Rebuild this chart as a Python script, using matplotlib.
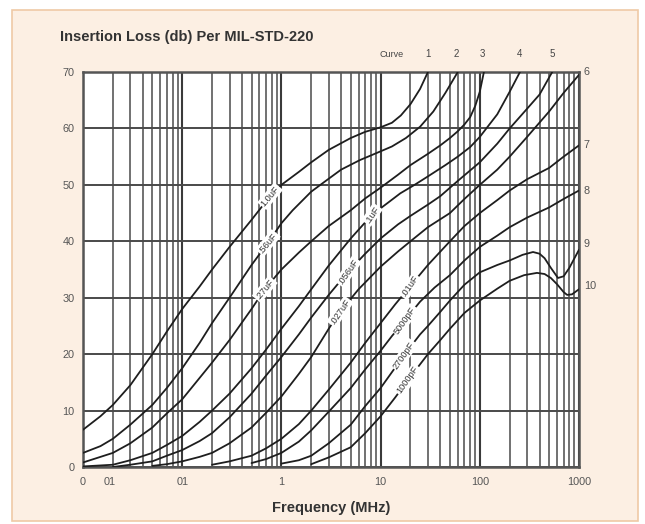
import matplotlib
matplotlib.use("Agg")
import matplotlib.pyplot as plt
from matplotlib.patches import Rectangle
from matplotlib.ticker import FixedLocator, NullFormatter

plt.rcParams['font.family'] = ['Liberation Sans', 'DejaVu Sans']

# ---------------- data ----------------
c1_f = [0.01, 0.015, 0.02, 0.03, 0.05, 0.07, 0.1, 0.15, 0.2, 0.3, 0.5, 0.77, 1, 1.5, 2, 3, 5, 7, 10, 13, 16, 20, 25, 30]
c1_db = [6.6, 9.0, 11.0, 14.5, 20.0, 24.0, 28.0, 32.0, 35.0, 39.0, 43.8, 48.0, 50.0, 52.3, 54.0, 56.2, 58.3, 59.4, 60.2, 61.0, 62.3, 64.3, 67.0, 70.0]

c2_f = [0.01, 0.015, 0.02, 0.03, 0.05, 0.07, 0.1, 0.15, 0.2, 0.3, 0.5, 0.73, 1, 1.3, 2, 2.9, 4, 6.2, 9, 13, 18, 25, 34, 45, 60]
c2_db = [2.5, 3.7, 5.0, 7.5, 11.0, 14.0, 17.5, 22.0, 25.5, 30.0, 35.8, 39.7, 43.2, 45.5, 48.8, 50.9, 52.7, 54.4, 55.6, 56.8, 58.3, 60.3, 63.0, 66.3, 70.0]

c3_f = [0.01, 0.02, 0.03, 0.05, 0.07, 0.1, 0.15, 0.2, 0.3, 0.5, 0.68, 1, 1.5, 2, 3, 5, 7, 10, 15, 20, 30, 40, 50, 60, 70, 80, 90, 100, 110]
c3_db = [0.8, 2.5, 4.2, 7.0, 9.5, 12.0, 15.8, 18.5, 22.5, 28.0, 31.5, 35.0, 38.0, 40.0, 42.7, 45.5, 47.6, 49.5, 51.8, 53.5, 55.5, 57.0, 58.3, 59.5, 60.7, 62.0, 64.0, 66.5, 70.0]

c4_f = [0.01, 0.02, 0.03, 0.05, 0.07, 0.1, 0.15, 0.2, 0.3, 0.5, 0.7, 1, 1.5, 2, 3, 5, 8.2, 12, 15.8, 22, 30, 45, 60, 80, 100, 150, 200, 254]
c4_db = [0.1, 0.4, 1.2, 2.5, 3.9, 5.5, 8.0, 10.0, 13.0, 17.5, 20.8, 24.5, 28.5, 31.5, 35.7, 40.5, 44.7, 46.9, 48.5, 50.0, 51.5, 53.5, 55.0, 56.7, 58.5, 62.5, 66.5, 70.0]

c5_f = [0.02, 0.03, 0.05, 0.07, 0.1, 0.15, 0.2, 0.3, 0.5, 0.7, 1, 1.5, 2, 3, 4.7, 7, 10, 15, 20, 30, 40, 60, 100, 150, 200, 300, 400, 537]
c5_db = [0.0, 0.4, 1.0, 2.0, 3.0, 4.6, 6.0, 8.8, 13.0, 16.2, 19.5, 23.5, 26.5, 30.5, 34.6, 37.8, 40.5, 43.0, 44.5, 46.5, 48.0, 50.7, 54.0, 57.3, 60.0, 63.5, 66.0, 70.0]

c6_f = [0.05, 0.07, 0.1, 0.15, 0.2, 0.3, 0.5, 0.7, 1, 1.5, 2, 3, 3.9, 6, 10, 15, 20, 30, 50, 70, 100, 150, 200, 300, 500, 700, 1000]
c6_db = [0.2, 0.5, 1.0, 1.8, 2.5, 4.2, 7.0, 9.6, 12.5, 16.5, 19.5, 24.5, 27.5, 31.5, 35.5, 38.2, 40.0, 42.5, 45.0, 47.5, 50.0, 52.7, 55.0, 58.5, 63.0, 66.3, 69.5]

c7_f = [0.2, 0.3, 0.5, 0.7, 1, 1.5, 2, 3, 5, 7, 10, 14, 19.8, 30, 50, 70, 100, 150, 200, 300, 500, 700, 1000]
c7_db = [0.4, 1.0, 2.0, 3.3, 5.0, 7.6, 10.0, 13.7, 18.5, 22.0, 25.5, 28.8, 32.0, 35.8, 40.0, 42.7, 45.0, 47.3, 49.0, 51.0, 53.0, 55.0, 57.0]

c8_f = [0.5, 0.7, 1, 1.5, 2, 3, 5, 7, 10, 13, 17.6, 25, 35, 50, 70, 100, 150, 200, 300, 500, 700, 1000]
c8_db = [0.7, 1.4, 2.5, 4.5, 6.5, 9.8, 14.0, 17.3, 20.6, 23.2, 26.0, 29.3, 31.8, 34.0, 36.6, 39.0, 41.0, 42.5, 44.2, 46.0, 47.5, 49.0]

c9_f = [1, 1.5, 2, 3, 5, 7, 10, 13, 17.2, 25, 30, 40, 50, 70, 100, 150, 200, 270, 344, 400, 450, 520, 614, 700, 800, 900, 1000]
c9_db = [0.6, 1.2, 2.0, 4.2, 7.5, 10.8, 14.0, 16.8, 19.8, 23.5, 25.0, 27.5, 29.5, 32.3, 34.5, 35.8, 36.6, 37.6, 38.1, 37.8, 37.0, 35.3, 33.5, 33.8, 35.3, 37.0, 38.5]

c10_f = [2, 3, 5, 7, 10, 14, 18.9, 25, 30, 40, 50, 70, 100, 150, 200, 280, 377, 450, 520, 600, 700, 759, 850, 1000]
c10_db = [0.5, 1.7, 3.5, 6.0, 9.0, 12.3, 15.4, 18.2, 20.0, 22.5, 24.5, 27.3, 29.5, 31.6, 33.0, 34.0, 34.4, 34.2, 33.5, 32.4, 31.0, 30.5, 30.6, 31.5]

curve_labels = ["1.0uF", ".56uF", ".27uF", ".1uF", ".056uF", ".027uF",
                ".01uF", "5000pF", "2700pF", "1000pF"]
label_f = [0.77, 0.73, 0.68, 8.2, 4.7, 3.9, 19.8, 17.6, 17.2, 18.9]
label_db = [48.0, 39.7, 31.5, 44.7, 34.6, 27.5, 32.0, 26.0, 19.8, 15.4]

top_nums = ["1", "2", "3", "4", "5"]
top_f = [30, 58, 105, 254, 537]
right_nums = ["6", "7", "8", "9", "10"]
right_db = [70, 57, 49, 39.5, 32]

xtick_pos = [0.01, 0.0187, 0.1, 1, 10, 100, 1000]
xtick_lab = ["0", "01", "01", "1", "10", "100", "1000"]
ytick_pos = [0, 10, 20, 30, 40, 50, 60, 70]

curves = [(c1_f, c1_db), (c2_f, c2_db), (c3_f, c3_db), (c4_f, c4_db), (c5_f, c5_db),
          (c6_f, c6_db), (c7_f, c7_db), (c8_f, c8_db), (c9_f, c9_db), (c10_f, c10_db)]

# ---------------- figure ----------------
W, H = 645, 524
fig = plt.figure(figsize=(W / 100, H / 100), dpi=100, facecolor='white')
fig.patches.append(Rectangle((12 / W, 3 / H), 626 / W, 511 / H, transform=fig.transFigure,
                             facecolor='#fcefe3', edgecolor='#efc9a6', lw=1.2, zorder=-5))

ax = fig.add_axes([83 / W, 1 - 467 / H, (579 - 83) / W, (467 - 72) / H])
ax.set_zorder(2)
ax.set_facecolor('white')
ax.set_xscale('log')
ax.set_xlim(0.01, 1000)
ax.set_ylim(0, 70)

minor = [m * 10.0 ** e for e in range(-2, 3) for m in range(2, 10)]
ax.xaxis.set_minor_locator(FixedLocator(minor))
ax.xaxis.set_minor_formatter(NullFormatter())
ax.set_xticks(xtick_pos)
ax.set_xticklabels(xtick_lab)
ax.set_yticks(ytick_pos)
ax.tick_params(axis='both', which='both', length=0, labelsize=7.8, colors='#555555', pad=6)
ax.tick_params(axis='x', pad=7)

for v in [0.01, 0.1, 1, 10, 100, 1000]:
    ax.axvline(v, color='#3a3a3a', lw=1.5, zorder=1)
for v in minor:
    ax.axvline(v, color='#4a4a4a', lw=1.1, zorder=1)
for v in ytick_pos:
    ax.axhline(v, color='#4a4a4a', lw=1.4, zorder=1)

for s in ax.spines.values():
    s.set_color('#555555')
    s.set_linewidth(1.8)

for f, d in curves:
    ax.plot(f, d, color='#1e1e1e', lw=1.3, zorder=3, solid_joinstyle='round',
            solid_capstyle='round')

for i, (t, f, d) in enumerate(zip(curve_labels, label_f, label_db)):
    ang = 50 if i < 3 else 55
    ax.text(f, d, t, rotation=ang, rotation_mode='anchor', ha='center', va='center',
            fontsize=6.6, color='#333333', zorder=5,
            bbox=dict(boxstyle='square,pad=0.15', fc='white', ec='none'))

ax.text(13, 72.3, "Curve", fontsize=6.5, color='#444444', ha='center', va='bottom')
for t, f in zip(top_nums, top_f):
    ax.text(f, 72.3, t, fontsize=7, color='#444444', ha='center', va='bottom')
for t, d in zip(right_nums, right_db):
    ax.text(1000 * 1.12, d, t, fontsize=7.8, color='#555555', ha='left', va='center')

fig.text(60 / W, 1 - 37 / H, "Insertion Loss (db) Per MIL-STD-220", fontsize=10.5,
         fontweight='bold', color='#333333', ha='left', va='center')
ax.set_xlabel("Frequency (MHz)", fontsize=10.5, fontweight='bold', color='#333333', labelpad=10)

fig.savefig("out.png", dpi=100, facecolor='white')
